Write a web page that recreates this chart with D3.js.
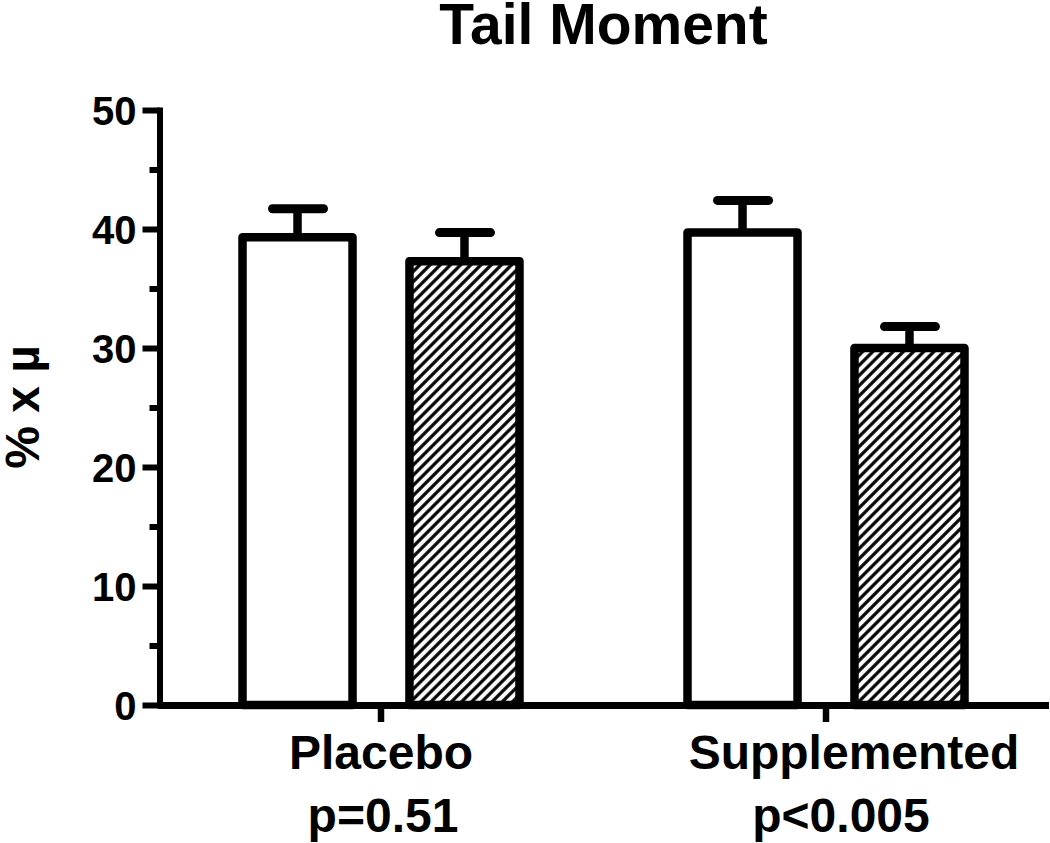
<!DOCTYPE html>
<html>
<head>
<meta charset="utf-8">
<script src="https://cdn.jsdelivr.net/npm/d3@7"></script>
<style>
  html, body { margin: 0; padding: 0; background: #fff; }
  svg { display: block; }
  text { font-family: "Liberation Sans", Arial, Helvetica, sans-serif; font-weight: bold; fill: #000; }
</style>
</head>
<body>
<svg id="chart" width="1050" height="843"></svg>
<script>
// ---- data ----
const categories = ["Placebo", "Supplemented"];
const pLabels = ["p=0.51", "p<0.005"];
const seriesNames = ["Before", "After"];
const beforeValues = [39.3, 39.7];
const afterValues = [37.3, 30.0];
const beforeErrors = [2.4, 2.7];
const afterErrors = [2.4, 1.8];
const yTickValues = [0, 10, 20, 30, 40, 50];
const yMinorTickValues = [5, 15, 25, 35, 45];
const title = "Tail Moment";
const yLabel = "% x µ";

// ---- layout ----
const svg = d3.select("#chart");
const x = d3.scaleBand().domain(categories).range([158.5, 1048.5]).padding(0);
const xs = d3.scaleBand().domain(seriesNames).range([84, 361]).paddingInner(0.341).paddingOuter(0);
const y = d3.scaleLinear().domain([0, 50]).range([705, 110]);

const rows = [];
categories.forEach((c, i) => {
  rows.push({ cat: c, s: seriesNames[0], v: beforeValues[i], e: beforeErrors[i] });
  rows.push({ cat: c, s: seriesNames[1], v: afterValues[i], e: afterErrors[i] });
});

// hatch pattern
const defs = svg.append("defs");
const pat = defs.append("pattern")
  .attr("id", "hatch")
  .attr("patternUnits", "userSpaceOnUse")
  .attr("width", 7.2).attr("height", 20)
  .attr("patternTransform", "rotate(45)");
pat.append("rect").attr("width", 7.2).attr("height", 20).attr("fill", "#fff");
pat.append("line").attr("x1", 1.8).attr("x2", 1.8).attr("y1", 0).attr("y2", 20)
  .attr("stroke", "#000").attr("stroke-width", 3.2);

// title
svg.append("text")
  .attr("x", (158.5 + 1048.5) / 2).attr("y", 44)
  .attr("text-anchor", "middle")
  .attr("font-size", 57)
  .text(title);

// y label
svg.append("text")
  .attr("transform", "translate(39,407) rotate(-90)")
  .attr("text-anchor", "middle")
  .attr("font-size", 48)
  .text(yLabel);

// error bars
const eb = svg.append("g");
rows.forEach(d => {
  const cx = x(d.cat) + xs(d.s) + xs.bandwidth() / 2;
  eb.append("line")
    .attr("x1", cx).attr("x2", cx)
    .attr("y1", y(d.v)).attr("y2", y(d.v + d.e))
    .attr("stroke", "#000").attr("stroke-width", 8.5);
  eb.append("line")
    .attr("x1", cx - 25).attr("x2", cx + 26)
    .attr("y1", y(d.v + d.e)).attr("y2", y(d.v + d.e))
    .attr("stroke", "#000").attr("stroke-width", 9).attr("stroke-linecap", "round");
});

// bars
svg.append("g").selectAll("rect").data(rows).join("rect")
  .attr("x", d => x(d.cat) + xs(d.s))
  .attr("width", xs.bandwidth())
  .attr("y", d => y(d.v))
  .attr("height", d => y(0) - y(d.v))
  .attr("fill", d => d.s === seriesNames[0] ? "#fff" : "url(#hatch)")
  .attr("stroke", "#000")
  .attr("stroke-width", 8.5)
  .attr("stroke-linejoin", "round");

// y axis
const yAxis = svg.append("g").attr("transform", "translate(159.5,0)")
  .call(d3.axisLeft(y).tickValues(yTickValues).tickSize(17).tickSizeOuter(0).tickPadding(6).tickFormat(d3.format("d")));
yAxis.select(".domain").attr("stroke", "#000").attr("stroke-width", 6).attr("stroke-linecap", "square");
yAxis.selectAll(".tick line").attr("stroke", "#000").attr("stroke-width", 6);
yAxis.selectAll(".tick text").attr("font-size", 40).attr("font-family", null).attr("dy", "0.36em");

const yMinor = svg.append("g").attr("transform", "translate(159.5,0)")
  .call(d3.axisLeft(y).tickValues(yMinorTickValues).tickSize(10).tickSizeOuter(0).tickFormat(""));
yMinor.select(".domain").remove();
yMinor.selectAll(".tick line").attr("stroke", "#000").attr("stroke-width", 6);

// x axis
const xAxis = svg.append("g").attr("transform", "translate(0,705)")
  .call(d3.axisBottom(x).tickSize(17).tickSizeOuter(0).tickFormat(""));
xAxis.select(".domain").attr("stroke", "#000").attr("stroke-width", 7);
xAxis.selectAll(".tick line").attr("stroke", "#000").attr("stroke-width", 6.5);

// x labels (two lines)
const labelDx = [[0, 2], [28, 15]];
categories.forEach((c, i) => {
  const cx = x(c) + x.bandwidth() / 2;
  svg.append("text").attr("x", cx + labelDx[i][0]).attr("y", 769)
    .attr("text-anchor", "middle").attr("font-size", 48).text(c);
  svg.append("text").attr("x", cx + labelDx[i][1]).attr("y", 832)
    .attr("text-anchor", "middle").attr("font-size", 48).text(pLabels[i]);
});
</script>
</body>
</html>
